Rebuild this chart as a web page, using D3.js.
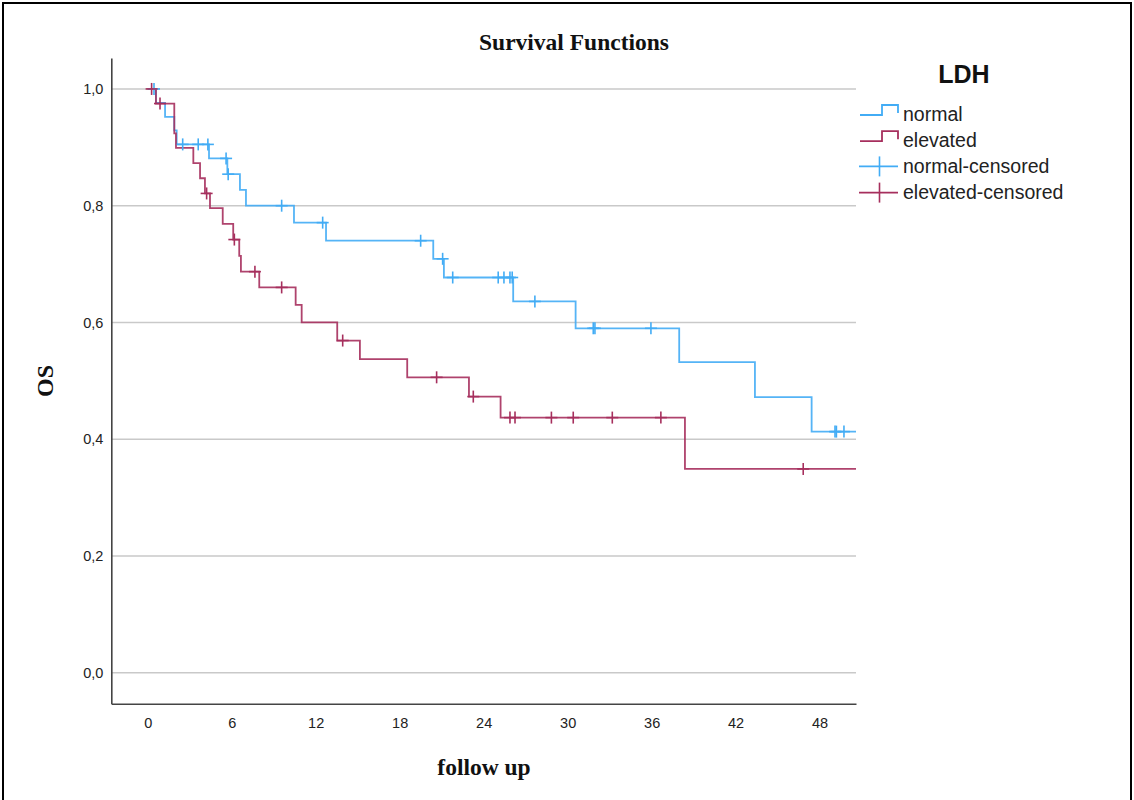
<!DOCTYPE html>
<html>
<head>
<meta charset="utf-8">
<script src="https://cdn.jsdelivr.net/npm/d3@7"></script>
<style>
  html, body { margin: 0; padding: 0; background: #fff; }
  svg { display: block; }
</style>
</head>
<body>
<svg id="chart" width="1134" height="800"></svg>
<script>
// Kaplan–Meier estimates of overall survival by LDH level (follow up in months)
const normalTimes = [0, 0.59, 1.24, 1.9, 2.07, 4.38, 5.69, 6.59, 7.02, 10.45, 12.74, 20.4, 21.16, 26.11, 30.57, 37.97, 43.38, 47.43];
const normalSurv  = [1.0, 0.976, 0.952, 0.929, 0.905, 0.881, 0.854, 0.827, 0.800, 0.771, 0.740, 0.709, 0.677, 0.636, 0.590, 0.532, 0.472, 0.413];
const normalCensored = [0.45, 2.5, 3.61, 4.3, 5.6, 5.75, 9.57, 12.5, 19.5, 21.07, 21.79, 25.04, 25.45, 25.88, 26.04, 27.66, 31.83, 31.95, 35.95, 49.1, 49.2, 49.74];

const elevatedTimes = [0, 0.59, 1.9, 2.02, 3.26, 3.74, 4.09, 4.45, 5.36, 6.11, 6.54, 6.66, 7.97, 10.57, 11.0, 13.54, 15.16, 18.54, 22.95, 25.21, 38.38];
const elevatedSurv  = [1.0, 0.975, 0.924, 0.899, 0.873, 0.847, 0.821, 0.796, 0.769, 0.742, 0.714, 0.687, 0.660, 0.630, 0.600, 0.569, 0.537, 0.506, 0.473, 0.437, 0.349];
const elevatedCensored = [0.28, 0.88, 4.21, 6.19, 7.66, 9.57, 13.93, 20.64, 23.26, 25.88, 26.24, 28.84, 30.4, 33.19, 36.66, 46.83];

const followUpMax = 50.6;
const xTicks = [0, 6, 12, 18, 24, 30, 36, 42, 48];
const yTicks = [0, 0.2, 0.4, 0.6, 0.8, 1.0];
const groupNames = ["normal", "elevated"];
const legendLabels = ["normal", "elevated", "normal-censored", "elevated-censored"];
const colors = { normal: "#42acf5", elevated: "#a62f5d" };

const svg = d3.select("#chart");
const W = 1134, H = 800;

// outer frame
svg.append("rect")
  .attr("x", 3).attr("y", 3).attr("width", W - 6).attr("height", H + 10)
  .attr("fill", "#fff").attr("stroke", "#000").attr("stroke-width", 2);

const plot = { left: 111.3, right: 856, top: 58, bottom: 703.7 };
const x = d3.scaleLinear().domain([-2.6, followUpMax]).range([plot.left, plot.right]);
const y = d3.scaleLinear().domain([-0.0531, 1.053]).range([plot.bottom, plot.top]);

const commaLocale = d3.formatLocale({ decimal: ",", thousands: ".", grouping: [3], currency: ["", ""] });
const fmtY = commaLocale.format(".1f");

// horizontal gridlines
svg.append("g").selectAll("line").data(yTicks).join("line")
  .attr("x1", plot.left).attr("x2", plot.right)
  .attr("y1", d => y(d)).attr("y2", d => y(d))
  .attr("stroke", "#c9c9c9").attr("stroke-width", 1.6);

// axes
const yAxis = svg.append("g")
  .attr("transform", `translate(${plot.left},0)`)
  .call(d3.axisLeft(y).tickValues(yTicks).tickFormat(fmtY).tickSize(0).tickSizeOuter(0).tickPadding(8));
const xAxis = svg.append("g")
  .attr("transform", `translate(0,${plot.bottom})`)
  .call(d3.axisBottom(x).tickValues(xTicks).tickSize(0).tickSizeOuter(0).tickPadding(14));
[yAxis, xAxis].forEach(g => {
  g.select(".domain").attr("stroke", "#444").attr("stroke-width", 1.6);
  g.selectAll("text").attr("font-family", "'Liberation Sans', Arial, sans-serif")
    .attr("font-size", 14.5).attr("fill", "#222");
});

// step curves
const stepLine = d3.line().x(d => x(d[0])).y(d => y(d[1])).curve(d3.curveStepAfter);
function stepPoints(times, surv) {
  const pts = times.map((t, i) => [t, surv[i]]);
  pts.push([followUpMax, surv[surv.length - 1]]);
  return pts;
}
function survAt(times, surv, t) {
  let s = surv[0];
  for (let i = 0; i < times.length; i++) if (times[i] <= t) s = surv[i];
  return s;
}

const groups = [
  { name: "normal", times: normalTimes, surv: normalSurv, cens: normalCensored },
  { name: "elevated", times: elevatedTimes, surv: elevatedSurv, cens: elevatedCensored }
];

groups.forEach(g => {
  svg.append("path")
    .datum(stepPoints(g.times, g.surv))
    .attr("d", stepLine)
    .attr("fill", "none")
    .attr("stroke", colors[g.name])
    .attr("stroke-width", 1.8)
    .attr("stroke-opacity", 0.9);
});

// censoring marks
const tick = 6;
groups.forEach(g => {
  const marks = svg.append("g").attr("stroke", colors[g.name]).attr("stroke-width", 1.6);
  g.cens.forEach(t => {
    const cx = x(t), cy = y(survAt(g.times, g.surv, t));
    marks.append("line").attr("x1", cx).attr("x2", cx).attr("y1", cy - tick).attr("y2", cy + tick);
    marks.append("line").attr("x1", cx - tick).attr("x2", cx + tick).attr("y1", cy).attr("y2", cy);
  });
});

// titles
const serif = "'Liberation Serif', 'Times New Roman', serif";
svg.append("text")
  .attr("x", 574).attr("y", 50).attr("text-anchor", "middle")
  .attr("font-family", serif)
  .attr("font-weight", "bold").attr("font-size", 23.5).attr("fill", "#111")
  .text("Survival Functions");

svg.append("text")
  .attr("transform", "translate(53,381) rotate(-90)")
  .attr("text-anchor", "middle")
  .attr("font-family", serif)
  .attr("font-weight", "bold").attr("font-size", 24).attr("fill", "#111")
  .text("OS");

svg.append("text")
  .attr("x", 484).attr("y", 775).attr("text-anchor", "middle")
  .attr("font-family", serif)
  .attr("font-weight", "bold").attr("font-size", 23.5).attr("fill", "#111")
  .text("follow up");

// legend
const legend = svg.append("g");
legend.append("text")
  .attr("x", 964).attr("y", 83).attr("text-anchor", "middle")
  .attr("font-family", "'Liberation Sans', Arial, sans-serif")
  .attr("font-weight", "bold").attr("font-size", 25).attr("fill", "#111")
  .text("LDH");

const rowBase = 115, rowGap = 26.2;
legendLabels.forEach((label, i) => {
  const cy = rowBase + i * rowGap;
  const group = groupNames[i % 2];
  const censored = i >= 2;
  const item = legend.append("g");
  if (!censored) {
    item.append("path")
      .attr("d", `M860,${cy}H882V${cy - 10}H898V${cy - 2}`)
      .attr("fill", "none").attr("stroke", colors[group]).attr("stroke-width", 1.8);
  } else {
    item.append("line").attr("x1", 859).attr("x2", 898).attr("y1", cy - 1).attr("y2", cy - 1)
      .attr("stroke", colors[group]).attr("stroke-width", 1.6);
    item.append("line").attr("x1", 879.5).attr("x2", 879.5).attr("y1", cy - 11).attr("y2", cy + 9)
      .attr("stroke", colors[group]).attr("stroke-width", 1.6);
  }
  item.append("text")
    .attr("x", 903).attr("y", cy + 5.5)
    .attr("font-family", "'Liberation Sans', Arial, sans-serif")
    .attr("font-size", 19.5).attr("fill", "#222")
    .text(label);
});
</script>
</body>
</html>
